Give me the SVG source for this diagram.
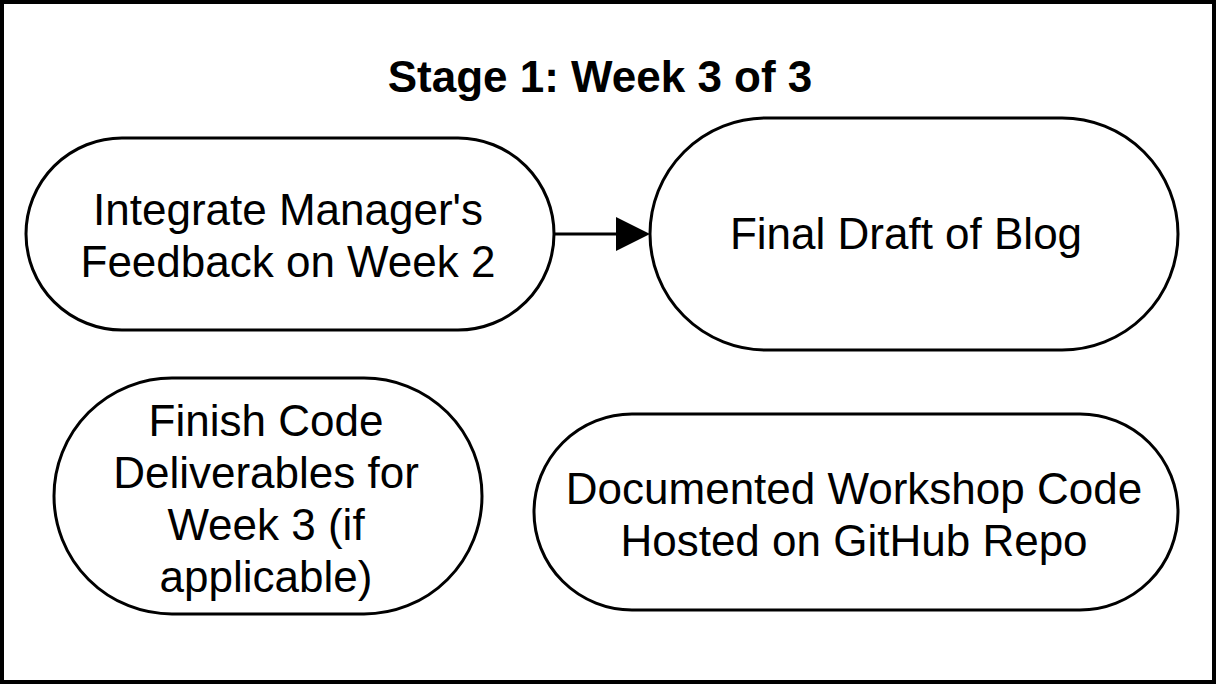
<svg xmlns="http://www.w3.org/2000/svg" width="1216" height="684" viewBox="0 0 1216 684">
<style>
.node{fill:#fff;stroke:#000;stroke-width:3}
.t{font-family:"Liberation Sans",Arial,sans-serif;font-size:44px;fill:#000;text-anchor:middle}
.title{font-weight:bold}
</style>
<defs>
<marker id="arr" markerWidth="12" markerHeight="12" refX="11" refY="6" orient="auto" markerUnits="userSpaceOnUse" viewBox="0 0 12 12">
<path d="M0,0 L12,6 L0,12 Z" fill="#000"/>
</marker>
</defs>
<rect x="0" y="0" width="1216" height="684" fill="#fff"/>
<rect x="2" y="2" width="1212" height="680" fill="#fff" stroke="#000" stroke-width="4"/>
<g id="title"><text class="t title" x="600" y="92">Stage 1: Week 3 of 3</text></g>
<g id="connectors">
<line x1="555" y1="234" x2="617" y2="234" stroke="#000" stroke-width="3"/>
<path d="M616,217 L650,234 L616,251 Z" fill="#000"/>
</g>
<g id="n1">
<rect class="node" x="26" y="138" width="528" height="192" rx="96" ry="96"/>
<text class="t" x="288" y="225">Integrate Manager's</text>
<text class="t" x="288" y="277">Feedback on Week 2</text>
</g>
<g id="n2">
<rect class="node" x="650" y="118" width="528" height="232" rx="116" ry="116"/>
<text class="t" x="906" y="249">Final Draft of Blog</text>
</g>
<g id="n3">
<rect class="node" x="54" y="378" width="428" height="236" rx="118" ry="118"/>
<text class="t" x="266" y="436">Finish Code</text>
<text class="t" x="266" y="488">Deliverables for</text>
<text class="t" x="266" y="540">Week 3 (if</text>
<text class="t" x="266" y="592">applicable)</text>
</g>
<g id="n4">
<rect class="node" x="534" y="414" width="644" height="196" rx="98" ry="98"/>
<text class="t" x="854" y="504">Documented Workshop Code</text>
<text class="t" x="854" y="556">Hosted on GitHub Repo</text>
</g>
</svg>
